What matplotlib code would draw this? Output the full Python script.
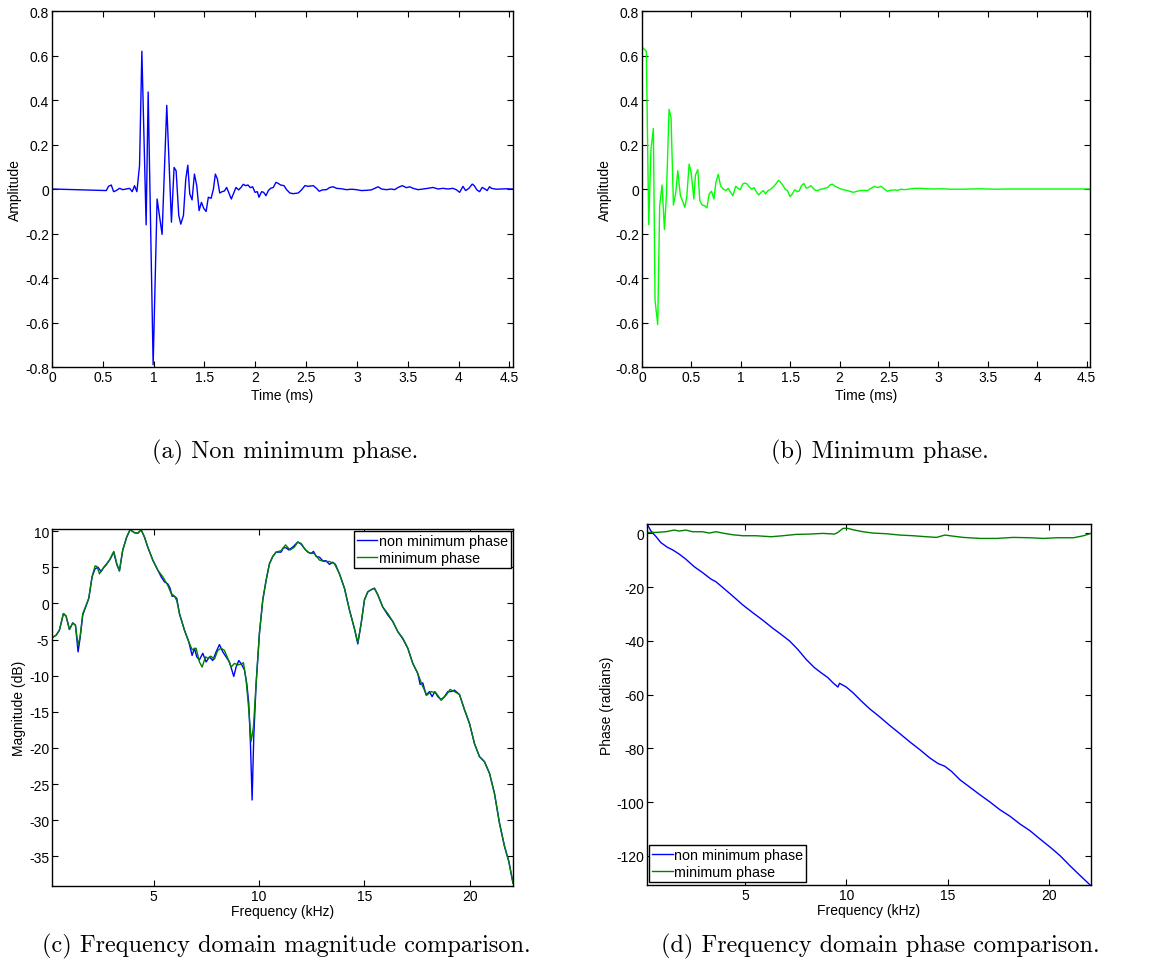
import matplotlib
matplotlib.use("Agg")
import matplotlib.pyplot as plt

# ---------------- data ----------------
# (a) non minimum phase impulse response
t_nmp = [0.0, 0.534, 0.556, 0.583, 0.606, 0.632, 0.664, 0.697, 0.730, 0.763, 0.789, 0.812, 0.835,
         0.861, 0.884, 0.926, 0.946, 0.995, 1.034, 1.083, 1.129, 1.175, 1.201, 1.221, 1.247, 1.267,
         1.293, 1.316, 1.336, 1.355, 1.378, 1.401, 1.424, 1.447, 1.470, 1.493, 1.516, 1.538, 1.565,
         1.588, 1.607, 1.627, 1.650, 1.673, 1.696, 1.718, 1.741, 1.764, 1.791, 1.810, 1.836, 1.859,
         1.882, 1.905, 1.928, 1.951, 1.974, 1.997, 2.020, 2.036, 2.062, 2.082, 2.105, 2.128, 2.151,
         2.177, 2.203, 2.226, 2.249, 2.282, 2.308, 2.340, 2.373, 2.422, 2.455, 2.488, 2.520, 2.570,
         2.602, 2.628, 2.661, 2.700, 2.733, 2.766, 2.799, 2.848, 2.897, 2.946, 2.995, 3.044, 3.093,
         3.142, 3.175, 3.208, 3.241, 3.290, 3.339, 3.372, 3.404, 3.447, 3.486, 3.519, 3.552, 3.601,
         3.650, 3.699, 3.748, 3.797, 3.846, 3.895, 3.944, 3.977, 4.010, 4.043, 4.069, 4.101, 4.134,
         4.154, 4.180, 4.206, 4.232, 4.259, 4.281, 4.304, 4.324, 4.369, 4.419, 4.468, 4.527]
a_nmp = [0.0, -0.007, 0.012, 0.018, -0.012, -0.007, 0.003, -0.003, 0.0, 0.003, -0.012, 0.015, -0.012,
         0.104, 0.619, -0.161, 0.436, -0.79, -0.045, -0.204, 0.376, -0.149, 0.097, 0.082, -0.119, -0.158,
         -0.119, 0.045, 0.107, -0.022, -0.049, 0.067, 0.015, -0.097, -0.060, -0.087, -0.101, -0.037, -0.042,
         0.0, 0.067, 0.045, -0.018, -0.012, -0.009, 0.007, -0.019, -0.045, -0.015, 0.007, -0.004, 0.007,
         0.021, 0.015, 0.018, 0.006, 0.010, -0.015, -0.012, -0.037, -0.012, -0.015, -0.030, -0.007, 0.003,
         0.007, 0.030, 0.025, 0.018, 0.015, -0.003, -0.018, -0.021, -0.018, -0.004, 0.015, 0.012, 0.015,
         0.003, -0.010, -0.004, -0.003, 0.007, 0.010, 0.003, 0.001, -0.003, -0.001, -0.003, -0.007, -0.006,
         -0.004, 0.003, 0.010, 0.0, -0.003, 0.0, -0.003, 0.007, 0.015, 0.006, 0.010, 0.003, -0.003,
         0.0, 0.003, 0.007, 0.0, 0.003, 0.0, 0.003, -0.003, -0.015, 0.012, -0.007, 0.003, 0.022,
         0.015, -0.004, -0.012, 0.007, 0.0, -0.007, 0.010, 0.003, -0.001, 0.0, 0.001, 0.0]

# (b) minimum phase impulse response
t_mp = [0.0, 0.044, 0.068, 0.091, 0.115, 0.132, 0.159, 0.179, 0.203, 0.227, 0.247, 0.274, 0.294,
        0.318, 0.342, 0.362, 0.389, 0.409, 0.433, 0.453, 0.477, 0.497, 0.525, 0.541, 0.565, 0.585,
        0.609, 0.633, 0.657, 0.680, 0.704, 0.728, 0.748, 0.772, 0.795, 0.822, 0.849, 0.873, 0.897,
        0.920, 0.948, 0.971, 0.995, 1.019, 1.042, 1.066, 1.090, 1.113, 1.134, 1.157, 1.181, 1.205,
        1.228, 1.252, 1.276, 1.303, 1.330, 1.354, 1.381, 1.404, 1.428, 1.448, 1.472, 1.499, 1.523,
        1.547, 1.570, 1.591, 1.614, 1.638, 1.662, 1.685, 1.709, 1.733, 1.756, 1.780, 1.804, 1.827,
        1.854, 1.878, 1.902, 1.926, 1.953, 1.980, 2.014, 2.047, 2.081, 2.115, 2.142, 2.176, 2.217,
        2.250, 2.284, 2.318, 2.352, 2.386, 2.420, 2.453, 2.481, 2.514, 2.555, 2.589, 2.623, 2.657,
        2.707, 2.758, 2.826, 2.893, 2.961, 3.029, 3.130, 3.232, 3.333, 3.435, 3.570, 3.706, 3.841,
        4.112, 4.382, 4.530]
a_mp = [0.639, 0.619, -0.161, 0.179, 0.272, -0.500, -0.609, -0.075, 0.018, -0.182, -0.030, 0.358, 0.321,
        -0.072, -0.015, 0.082, -0.030, -0.052, -0.082, -0.037, 0.112, 0.075, -0.045, 0.063, 0.087, -0.052,
        -0.072, -0.075, -0.085, -0.022, -0.010, -0.045, 0.030, 0.066, 0.015, 0.0, -0.007, 0.003, -0.015,
        -0.030, 0.012, 0.003, -0.003, 0.022, 0.027, 0.022, 0.007, 0.0, 0.006, -0.012, -0.027, -0.015,
        -0.007, -0.022, -0.007, -0.001, 0.010, 0.022, 0.039, 0.030, 0.015, 0.0, -0.007, -0.034, -0.021,
        -0.003, -0.012, -0.009, 0.015, 0.025, 0.004, 0.007, 0.015, 0.003, -0.006, -0.007, -0.001, 0.0,
        0.004, 0.006, 0.018, 0.022, 0.013, 0.007, 0.0, -0.004, -0.007, -0.012, -0.015, -0.010, -0.007,
        -0.006, -0.007, 0.003, 0.012, 0.006, 0.012, 0.0, -0.010, -0.006, -0.004, -0.006, -0.001, -0.003,
        0.0, 0.003, 0.003, 0.001, 0.0, 0.001, -0.001, -0.001, 0.0, 0.001, -0.001, 0.0, 0.0,
        0.0, 0.0, 0.0]

# (c) magnitude, minimum phase
f_mag_mp = [0.17, 0.364, 0.522, 0.712, 0.839, 0.997, 1.155, 1.282, 1.408, 1.503, 1.630, 1.756, 1.915,
            2.073, 2.215, 2.310, 2.421, 2.579, 2.737, 2.896, 3.101, 3.244, 3.370, 3.528, 3.718, 3.877,
            4.082, 4.241, 4.399, 4.557, 4.715, 4.953, 5.190, 5.427, 5.665, 5.823, 5.981, 6.092, 6.218,
            6.456, 6.661, 6.820, 7.009, 7.168, 7.294, 7.453, 7.579, 7.706, 7.880, 8.038, 8.196, 8.354,
            8.513, 8.671, 8.829, 8.987, 9.146, 9.256, 9.383, 9.509, 9.620, 9.731, 9.858, 10.016, 10.174,
            10.332, 10.491, 10.649, 10.807, 11.044, 11.250, 11.472, 11.677, 11.835, 11.994, 12.199, 12.389,
            12.627, 12.864, 13.101, 13.339, 13.576, 13.813, 14.051, 14.288, 14.525, 14.684, 14.842, 15.000,
            15.158, 15.316, 15.475, 15.633, 15.870, 16.108, 16.345, 16.582, 16.820, 17.057, 17.294, 17.532,
            17.737, 17.959, 18.165, 18.402, 18.639, 18.877, 19.066, 19.272, 19.509, 19.747, 19.984, 20.222,
            20.459, 20.696, 20.934, 21.171, 21.408, 21.646, 21.851, 22.05]
mag_mp = [-4.75, -4.4, -3.7, -1.4, -1.75, -3.6, -2.7, -3.0, -5.8, -4.6, -1.4, -0.5, 0.7,
          3.7, 5.2, 5.1, 4.1, 4.8, 5.3, 6.0, 7.2, 5.5, 4.5, 7.4, 9.2, 10.2,
          9.8, 9.7, 10.2, 9.2, 7.8, 6.0, 4.6, 3.7, 2.5, 1.4, 1.0, 0.4, -1.4,
          -3.7, -5.3, -6.4, -6.2, -8.1, -8.8, -7.4, -7.6, -7.3, -7.7, -6.5, -6.2, -6.5,
          -7.6, -8.8, -8.3, -8.5, -8.4, -8.2, -10.6, -14.7, -19.1, -17.1, -11.1, -4.1, 0.5,
          3.2, 5.5, 6.5, 7.1, 7.3, 8.1, 7.4, 7.8, 8.5, 8.3, 7.4, 7.0,
          6.9, 6.0, 5.8, 5.8, 5.5, 4.1, 2.1, -0.9, -3.5, -5.4, -2.8, 0.5,
          1.6, 1.9, 2.1, 1.2, -0.5, -1.4, -2.5, -3.9, -4.8, -6.2, -8.3, -9.7,
          -11.3, -12.7, -12.2, -12.4, -13.4, -12.7, -11.9, -12.2, -12.6, -14.7, -16.6, -19.4,
          -21.2, -21.9, -23.5, -26.3, -30.4, -33.6, -35.7, -38.7]

# (c) magnitude, non minimum phase
f_mag_nmp = [0.17, 0.364, 0.522, 0.712, 0.839, 0.997, 1.155, 1.282, 1.408, 1.503, 1.630, 1.756, 1.915,
             2.073, 2.215, 2.358, 2.500, 2.627, 2.769, 2.927, 3.101, 3.244, 3.370, 3.528, 3.718, 3.877,
             4.082, 4.241, 4.399, 4.557, 4.715, 4.953, 5.190, 5.348, 5.506, 5.665, 5.775, 5.870, 5.981,
             6.092, 6.218, 6.456, 6.661, 6.820, 6.930, 7.041, 7.168, 7.326, 7.484, 7.643, 7.801, 7.959,
             8.117, 8.275, 8.434, 8.592, 8.703, 8.797, 8.908, 9.035, 9.161, 9.304, 9.415, 9.509, 9.589,
             9.668, 9.747, 9.858, 10.016, 10.174, 10.332, 10.491, 10.649, 10.807, 11.044, 11.155, 11.282,
             11.408, 11.598, 11.835, 11.994, 12.152, 12.310, 12.468, 12.579, 12.706, 12.864, 13.022, 13.180,
             13.339, 13.497, 13.623, 13.813, 14.051, 14.288, 14.525, 14.684, 14.842, 15.000, 15.158, 15.316,
             15.475, 15.633, 15.870, 16.108, 16.345, 16.582, 16.820, 17.057, 17.294, 17.532, 17.642, 17.769,
             17.927, 18.086, 18.212, 18.339, 18.481, 18.639, 18.797, 18.956, 19.114, 19.272, 19.430, 19.509,
             19.747, 19.984, 20.222, 20.459, 20.696, 20.934, 21.171, 21.408, 21.646, 21.851, 22.05]
mag_nmp = [-4.75, -4.4, -3.7, -1.4, -1.75, -3.6, -2.7, -3.0, -6.7, -4.8, -1.6, -0.6, 0.7,
           3.7, 4.8, 5.0, 4.4, 5.0, 5.5, 6.1, 7.1, 5.4, 4.5, 7.4, 9.2, 10.2,
           9.8, 9.7, 10.2, 9.2, 7.8, 6.0, 4.6, 3.7, 3.0, 2.7, 2.1, 1.0, 1.0,
           0.7, -1.4, -3.7, -5.3, -7.2, -6.2, -7.4, -7.8, -6.9, -8.1, -7.4, -7.9, -6.7,
           -5.7, -6.7, -7.4, -8.1, -9.2, -10.1, -8.8, -7.9, -8.4, -9.2, -11.1, -13.8, -19.4,
           -27.2, -18.4, -11.1, -4.1, 0.5, 3.2, 5.5, 6.5, 7.1, 7.1, 7.7, 7.7,
           7.4, 7.8, 8.5, 8.2, 7.6, 7.1, 6.9, 7.2, 6.5, 6.4, 5.9, 5.9,
           5.4, 5.7, 5.4, 4.1, 2.1, -0.9, -3.5, -5.6, -2.8, 0.5, 1.6, 1.9,
           2.1, 1.2, -0.5, -1.6, -2.5, -3.9, -4.9, -6.2, -8.3, -9.7, -11.2, -11.0,
           -12.7, -12.2, -12.9, -12.2, -12.9, -13.3, -12.9, -12.2, -12.2, -12.0, -12.4, -12.6,
           -14.7, -16.6, -19.4, -21.2, -21.9, -23.5, -26.3, -30.4, -33.6, -35.7, -38.7]

# (d) phase, non minimum phase
f_ph_nmp = [0.17, 0.357, 0.604, 0.850, 1.180, 1.427, 1.756, 2.085, 2.497, 2.909, 3.320, 3.567, 3.897,
            4.391, 4.885, 5.379, 5.873, 6.367, 6.778, 7.190, 7.602, 8.013, 8.425, 8.754, 9.084, 9.331,
            9.578, 9.660, 9.825, 9.989, 10.319, 10.730, 11.142, 11.636, 12.130, 12.624, 13.118, 13.612,
            14.106, 14.518, 14.847, 15.176, 15.588, 16.082, 16.576, 17.070, 17.564, 18.058, 18.552,
            19.046, 19.540, 20.034, 20.528, 21.022, 21.516, 22.05]
ph_nmp = [3.5, 1.0, -1.1, -3.4, -5.2, -6.1, -7.7, -9.6, -12.4, -14.6, -17.0, -18.0, -20.1,
          -23.3, -26.6, -29.5, -32.3, -35.3, -37.6, -40.0, -43.2, -46.9, -50.0, -51.9, -53.7, -55.6,
          -57.2, -55.8, -56.5, -57.2, -59.3, -62.4, -65.3, -68.3, -71.5, -74.5, -77.6, -80.5,
          -83.6, -85.7, -86.7, -88.6, -91.7, -94.5, -97.3, -100.0, -102.9, -105.3, -108.2,
          -110.7, -113.8, -116.8, -120.0, -123.8, -127.4, -131.2]

# (d) phase, minimum phase
f_ph_mp = [0.17, 0.604, 1.097, 1.509, 1.756, 2.085, 2.415, 2.909, 3.238, 3.567, 3.897, 4.391, 4.885,
           5.543, 6.284, 6.861, 7.519, 8.178, 8.837, 9.413, 9.578, 9.825, 10.072, 10.319, 10.813,
           11.307, 11.965, 12.624, 13.283, 13.941, 14.435, 14.847, 15.094, 15.752, 16.576, 17.399,
           18.223, 19.046, 19.705, 20.363, 21.187, 21.680, 22.05]
ph_mp = [0.37, 0.37, 0.62, 1.24, 0.87, 1.24, 0.62, 0.62, 0.12, 0.62, 0.12, -0.5, -0.87,
         -0.87, -1.24, -0.87, -0.37, -0.25, 0.0, -0.25, 0.37, 1.87, 1.87, 1.37, 0.62,
         0.12, -0.12, -0.62, -0.87, -1.24, -1.49, -0.62, -0.87, -1.49, -1.87, -1.87,
         -1.49, -1.62, -1.87, -1.62, -1.62, -0.87, 0.0]

time_ticks = [0, 0.5, 1, 1.5, 2, 2.5, 3, 3.5, 4, 4.5]
time_ticklabels = ["0", "0.5", "1", "1.5", "2", "2.5", "3", "3.5", "4", "4.5"]
amp_ticks = [-0.8, -0.6, -0.4, -0.2, 0, 0.2, 0.4, 0.6, 0.8]
amp_ticklabels = ["-0.8", "-0.6", "-0.4", "-0.2", "0", "0.2", "0.4", "0.6", "0.8"]
freq_ticks = [5, 10, 15, 20]
mag_ticks = [-35, -30, -25, -20, -15, -10, -5, 0, 5, 10]
phase_ticks = [-120, -100, -80, -60, -40, -20, 0]

captions = ["(a) Non minimum phase.", "(b) Minimum phase.",
            "(c) Frequency domain magnitude comparison.", "(d) Frequency domain phase comparison."]
legend_labels = ["non minimum phase", "minimum phase"]

# ---------------- style ----------------
plt.rcParams['font.family'] = ['Liberation Sans', 'DejaVu Sans']
plt.rcParams['font.size'] = 10
plt.rcParams['axes.unicode_minus'] = False

W, H = 1157, 979
fig = plt.figure(figsize=(W / 100, H / 100), dpi=100)


def box(l, t, r, b):
    return [l / W, 1 - b / H, (r - l) / W, (b - t) / H]


def style(ax):
    ax.tick_params(direction='in', top=True, right=True, length=4, width=0.8,
                   labelsize=10, pad=2, colors='black')
    for s in ax.spines.values():
        s.set_linewidth(1.0)
        s.set_color('black')


ax_a = fig.add_axes(box(52, 12, 513, 368))
ax_b = fig.add_axes(box(642, 12, 1090, 368))
ax_c = fig.add_axes(box(52, 530, 513, 887))
ax_d = fig.add_axes(box(647, 525, 1091, 886))

# (a)
ax_a.plot(t_nmp, a_nmp, color=(0, 0, 1), lw=1.0)
ax_a.set_xlim(0, 4.535)
ax_a.set_ylim(-0.8, 0.8)
ax_a.set_xticks(time_ticks, time_ticklabels)
ax_a.set_yticks(amp_ticks, amp_ticklabels)
ax_a.set_xlabel("Time (ms)", labelpad=3)
ax_a.set_ylabel("Amplitude", labelpad=2)
style(ax_a)

# (b)
ax_b.plot(t_mp, a_mp, color=(0, 1, 0), lw=1.0)
ax_b.set_xlim(0, 4.535)
ax_b.set_ylim(-0.8, 0.8)
ax_b.set_xticks(time_ticks, time_ticklabels)
ax_b.set_yticks(amp_ticks, amp_ticklabels)
ax_b.set_xlabel("Time (ms)", labelpad=3)
ax_b.set_ylabel("Amplitude", labelpad=2)
style(ax_b)

# (c)
ax_c.plot(f_mag_nmp, mag_nmp, color=(0, 0, 1), lw=1.0, label=legend_labels[0])
ax_c.plot(f_mag_mp, mag_mp, color=(0, 0.5, 0), lw=1.0, label=legend_labels[1])
ax_c.set_xlim(0.17, 22.05)
ax_c.set_ylim(-39.1, 10.3)
ax_c.set_xticks(freq_ticks, [str(v) for v in freq_ticks])
ax_c.set_yticks(mag_ticks, [str(v) for v in mag_ticks])
ax_c.set_xlabel("Frequency (kHz)", labelpad=1)
ax_c.set_ylabel("Magnitude (dB)", labelpad=2)
style(ax_c)
leg = ax_c.legend(loc='upper right', bbox_to_anchor=(0.995, 0.995), fontsize=10.3,
                  handlelength=1.45, handletextpad=0.1, labelspacing=0.25,
                  borderpad=0.2, borderaxespad=0.0, fancybox=False, framealpha=1)
leg.get_frame().set_edgecolor('black')
leg.get_frame().set_linewidth(1.0)

# (d)
ax_d.plot(f_ph_nmp, ph_nmp, color=(0, 0, 1), lw=1.0, label=legend_labels[0])
ax_d.plot(f_ph_mp, ph_mp, color=(0, 0.5, 0), lw=1.0, label=legend_labels[1])
ax_d.set_xlim(0.17, 22.05)
ax_d.set_ylim(-130.9, 3.5)
ax_d.set_xticks(freq_ticks, [str(v) for v in freq_ticks])
ax_d.set_yticks(phase_ticks, [str(v) for v in phase_ticks])
ax_d.set_xlabel("Frequency (kHz)", labelpad=1)
ax_d.set_ylabel("Phase (radians)", labelpad=2)
style(ax_d)
leg = ax_d.legend(loc='lower left', bbox_to_anchor=(0.005, 0.008), fontsize=10.3,
                  handlelength=1.45, handletextpad=0.1, labelspacing=0.25,
                  borderpad=0.2, borderaxespad=0.0, fancybox=False, framealpha=1)
leg.get_frame().set_edgecolor('black')
leg.get_frame().set_linewidth(1.0)

# captions
cap_pos = [(285, 452), (880, 452), (286, 946), (880, 946)]
for (cx, cy), txt in zip(cap_pos, captions):
    fig.text(cx / W, 1 - cy / H, txt, ha='center', va='center',
             family=['cmr10', 'DejaVu Serif'], fontsize=17.5)

fig.savefig("out.png", dpi=100)
